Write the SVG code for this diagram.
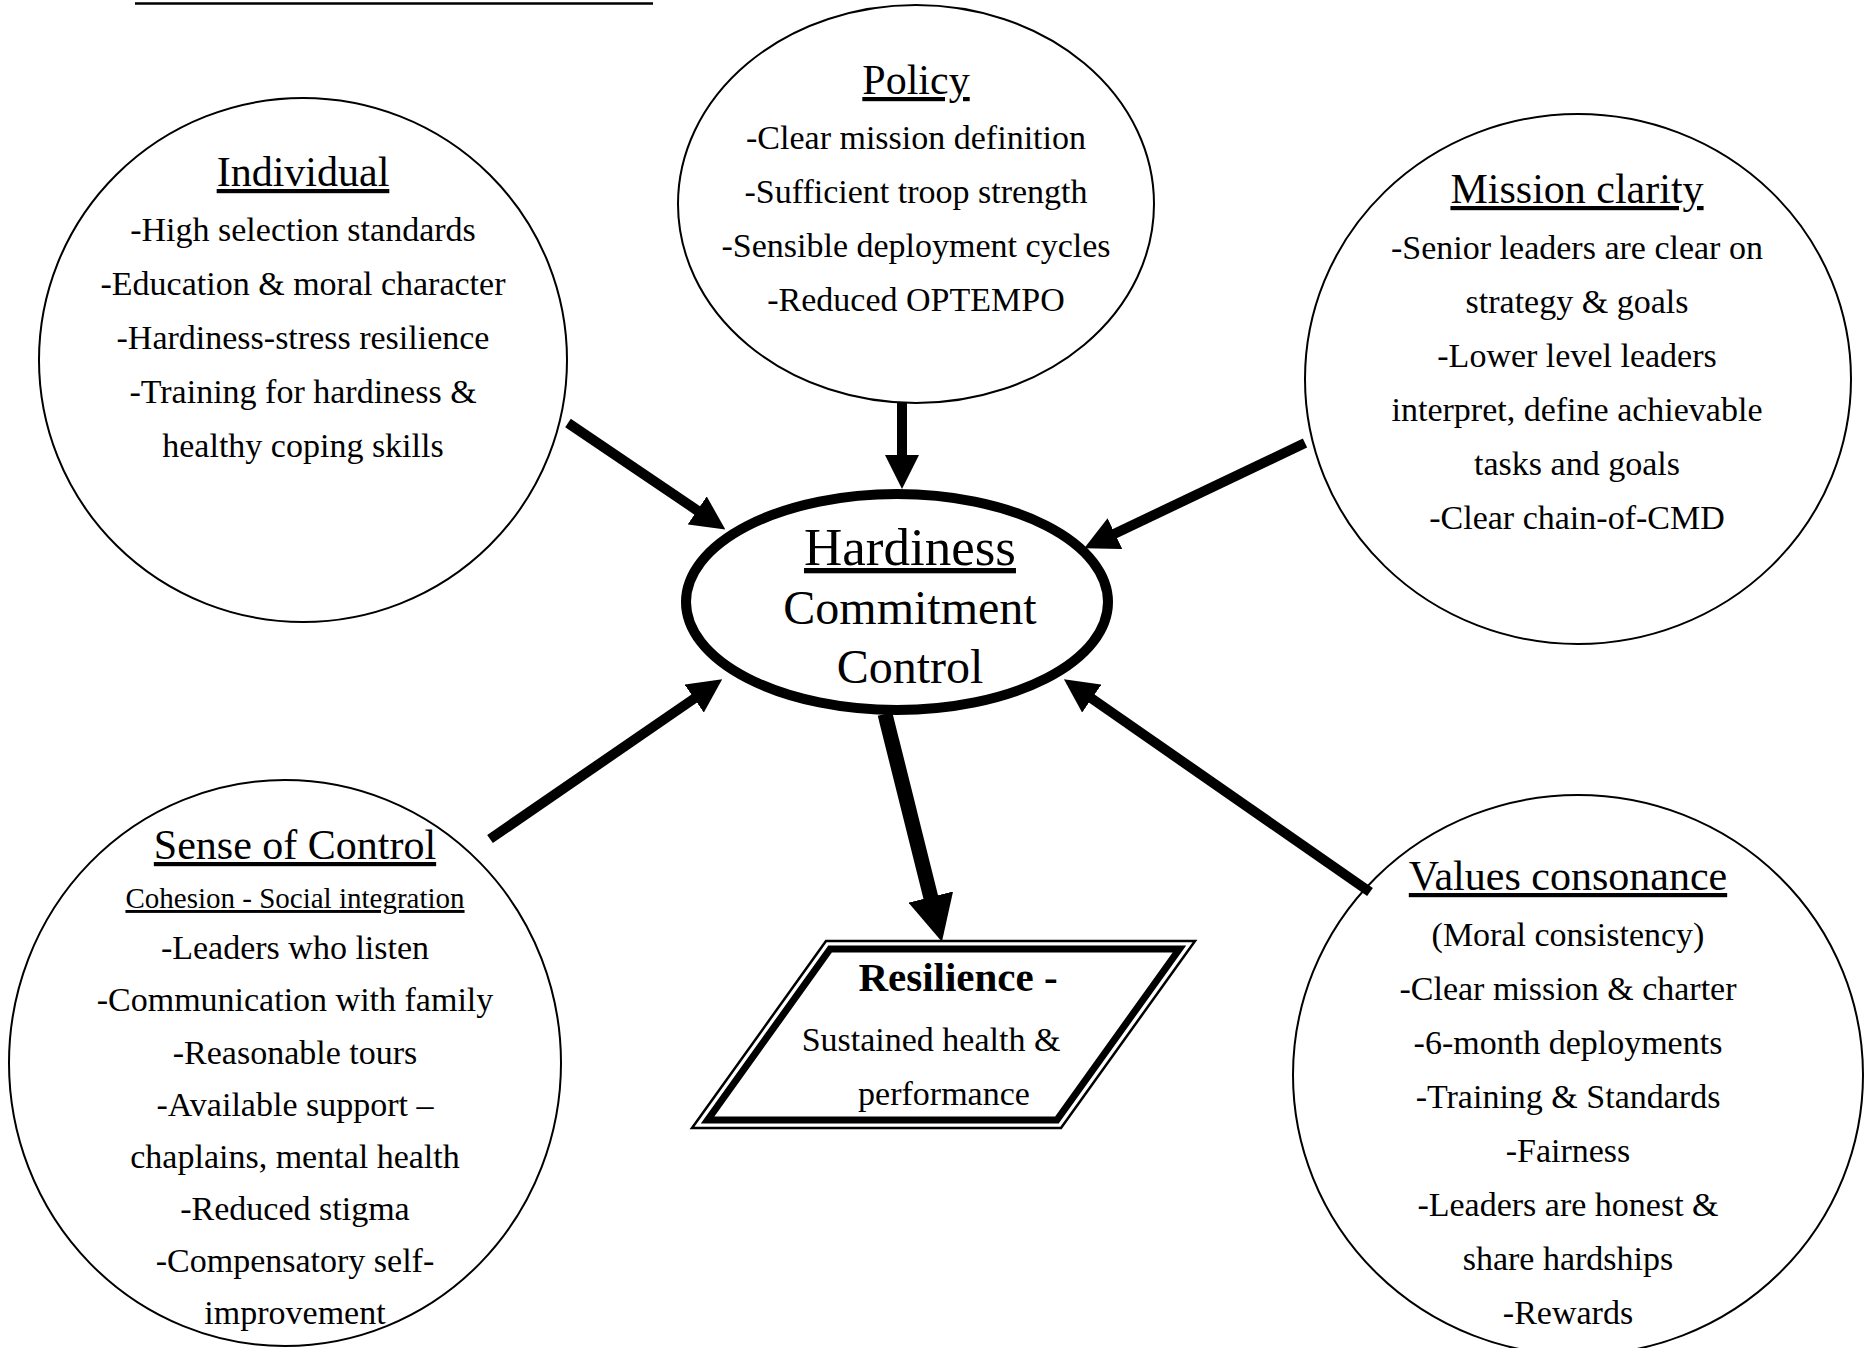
<svg xmlns="http://www.w3.org/2000/svg" width="1868" height="1348" viewBox="0 0 1868 1348">
<style>
  text { font-family: "Liberation Serif", "Times New Roman", serif; fill: #000; text-anchor: middle; }
  .title { font-size: 42px; text-decoration: underline; }
  .body { font-size: 34px; }
  .sub { font-size: 29px; text-decoration: underline; }
  .circ { fill: none; stroke: #000; stroke-width: 2; }
  .conn { stroke: #000; stroke-width: 10; fill: none; }
</style>
<defs>
  <marker id="ah" markerUnits="userSpaceOnUse" viewBox="0 0 34 34" markerWidth="34" markerHeight="34" refX="1" refY="17" orient="auto">
    <path d="M0,0 L34,17 L0,34 Z" fill="#000"/>
  </marker>
  <marker id="ahBig" markerUnits="userSpaceOnUse" viewBox="0 0 46 46" markerWidth="46" markerHeight="46" refX="1" refY="23" orient="auto">
    <path d="M0,0 L46,23 L0,46 Z" fill="#000"/>
  </marker>
</defs>
<rect x="0" y="0" width="1868" height="1348" fill="#fff"/>
<line x1="135" y1="3.5" x2="653" y2="3.5" stroke="#000" stroke-width="2.5"/>

<g id="connectors">
  <line class="conn" x1="568" y1="423" x2="698" y2="511" marker-end="url(#ah)"/>
  <line class="conn" x1="902" y1="402" x2="902" y2="456" marker-end="url(#ah)"/>
  <line class="conn" x1="1305" y1="443" x2="1114" y2="534" marker-end="url(#ah)"/>
  <line class="conn" x1="490" y1="839" x2="695" y2="698" marker-end="url(#ah)"/>
  <line class="conn" x1="1370" y1="892" x2="1091" y2="698" marker-end="url(#ah)"/>
  <line class="conn" style="stroke-width:15" x1="885" y1="714" x2="931" y2="898" marker-end="url(#ahBig)"/>
</g>

<g id="individual">
  <ellipse class="circ" cx="303" cy="360" rx="264" ry="262"/>
  <text class="title" x="303" y="186">Individual</text>
  <text class="body" x="303" y="241">-High selection standards</text>
  <text class="body" x="303" y="295">-Education &amp; moral character</text>
  <text class="body" x="303" y="349">-Hardiness-stress resilience</text>
  <text class="body" x="303" y="403">-Training for hardiness &amp;</text>
  <text class="body" x="303" y="457">healthy coping skills</text>
</g>

<g id="policy">
  <ellipse class="circ" cx="916" cy="204" rx="238" ry="199"/>
  <text class="title" x="916" y="94">Policy</text>
  <text class="body" x="916" y="149">-Clear mission definition</text>
  <text class="body" x="916" y="203">-Sufficient troop strength</text>
  <text class="body" x="916" y="257">-Sensible deployment cycles</text>
  <text class="body" x="916" y="311">-Reduced OPTEMPO</text>
</g>

<g id="mission">
  <ellipse class="circ" cx="1578" cy="379" rx="273" ry="265"/>
  <text class="title" x="1577" y="203">Mission clarity</text>
  <text class="body" x="1577" y="259">-Senior leaders are clear on</text>
  <text class="body" x="1577" y="313">strategy &amp; goals</text>
  <text class="body" x="1577" y="367">-Lower level leaders</text>
  <text class="body" x="1577" y="421">interpret, define achievable</text>
  <text class="body" x="1577" y="475">tasks and goals</text>
  <text class="body" x="1577" y="529">-Clear chain-of-CMD</text>
</g>

<g id="hardiness">
  <ellipse cx="897" cy="602" rx="211" ry="108" fill="#fff" stroke="#000" stroke-width="10"/>
  <text x="910" y="565" style="font-size:53px;text-decoration:underline">Hardiness</text>
  <text x="910" y="624" style="font-size:48px">Commitment</text>
  <text x="910" y="683" style="font-size:48px">Control</text>
</g>

<g id="sense">
  <ellipse class="circ" cx="285" cy="1063" rx="276" ry="283"/>
  <text class="title" x="295" y="859">Sense of Control</text>
  <text class="sub" x="295" y="908">Cohesion - Social integration</text>
  <text class="body" x="295" y="959">-Leaders who listen</text>
  <text class="body" x="295" y="1011">-Communication with family</text>
  <text class="body" x="295" y="1064">-Reasonable tours</text>
  <text class="body" x="295" y="1116">-Available support –</text>
  <text class="body" x="295" y="1168">chaplains, mental health</text>
  <text class="body" x="295" y="1220">-Reduced stigma</text>
  <text class="body" x="295" y="1272">-Compensatory self-</text>
  <text class="body" x="295" y="1324">improvement</text>
</g>

<g id="values">
  <ellipse class="circ" cx="1578" cy="1075" rx="285" ry="280"/>
  <text class="title" x="1568" y="890">Values consonance</text>
  <text class="body" x="1568" y="946">(Moral consistency)</text>
  <text class="body" x="1568" y="1000">-Clear mission &amp; charter</text>
  <text class="body" x="1568" y="1054">-6-month deployments</text>
  <text class="body" x="1568" y="1108">-Training &amp; Standards</text>
  <text class="body" x="1568" y="1162">-Fairness</text>
  <text class="body" x="1568" y="1216">-Leaders are honest &amp;</text>
  <text class="body" x="1568" y="1270">share hardships</text>
  <text class="body" x="1568" y="1324">-Rewards</text>
</g>

<g id="resilience">
  <path d="M826,941 L1195,941 L1061,1128 L692,1128 Z" fill="#fff" stroke="#000" stroke-width="2.5"/>
  <path d="M830.1,949 L1179.4,949 L1056.9,1120 L707.6,1120 Z" fill="none" stroke="#000" stroke-width="7"/>
  <text x="958" y="991" style="font-size:41px;font-weight:bold">Resilience -</text>
  <text x="931" y="1051" style="font-size:34px">Sustained health &amp;</text>
  <text x="944" y="1105" style="font-size:34px">performance</text>
</g>
</svg>
